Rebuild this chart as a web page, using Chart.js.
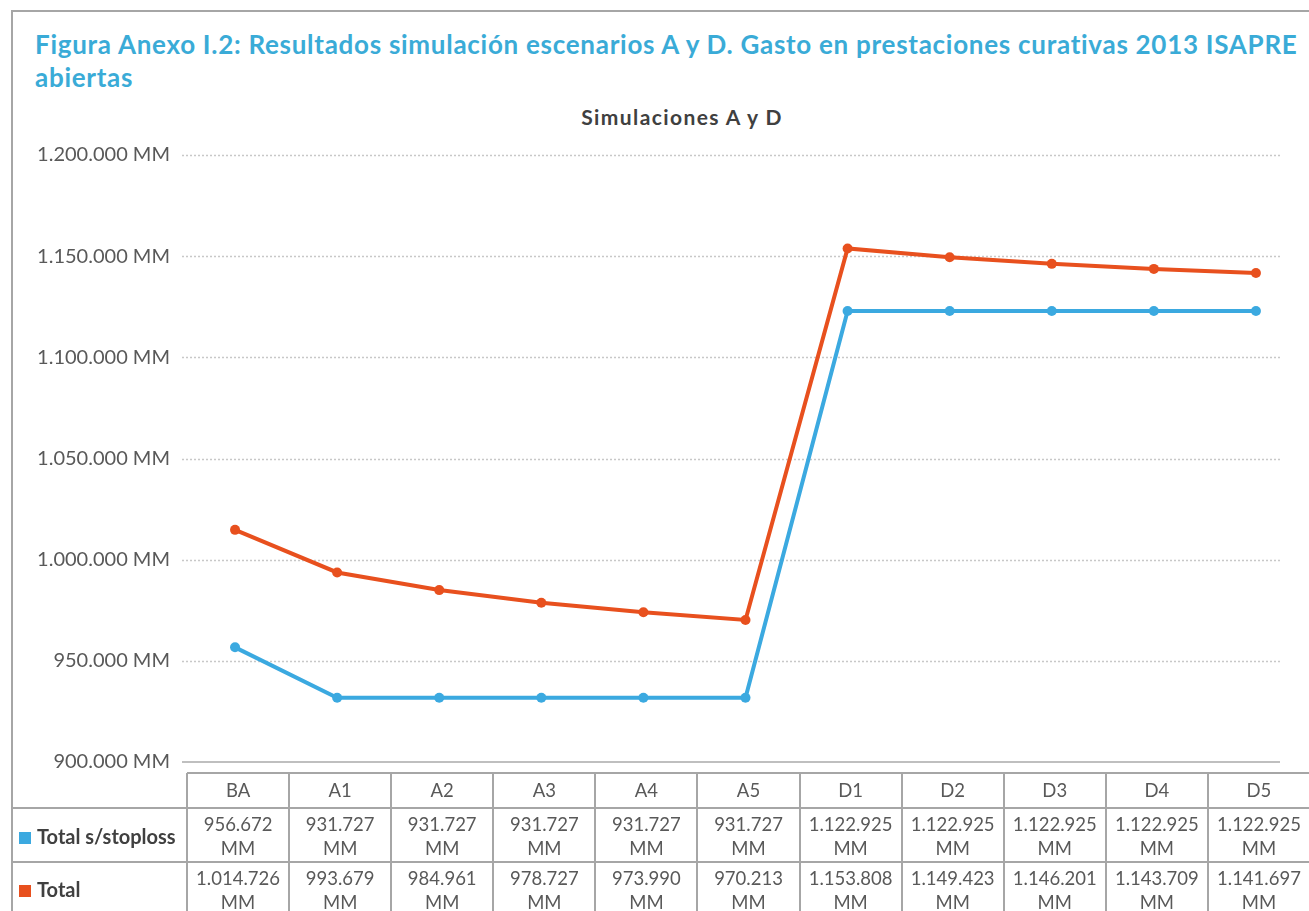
<!DOCTYPE html>
<html>
<head>
<meta charset="utf-8">
<script src="https://cdn.jsdelivr.net/npm/chart.js@4.4.0/dist/chart.umd.min.js"></script>
<style>
	html, body { margin: 0; padding: 0; background: #fff; overflow: hidden; }
	#wrap { position: relative; width: 1312px; height: 911px; }
	#frame { position: absolute; left: 11px; top: 10px; width: 1400px; height: 1000px; border-left: 2px solid #a6a6a6; border-top: 2px solid #a6a6a6; }
	#title { position: absolute; left: 35px; top: 28px; width: 1290px; font-family: Lato, sans-serif; font-weight: bold; font-size: 26px; line-height: 33px; color: #3aabd7; white-space: nowrap; }
	#subtitle { position: absolute; left: 482px; top: 104px; width: 400px; text-align: center; font-family: Lato, sans-serif; font-weight: bold; font-size: 21px; letter-spacing: 1.4px; color: #404040; }
	canvas { position: absolute; left: 0; top: 0; }
</style>
</head>
<body>
<div id="wrap">
	<div id="frame"></div>
	<div id="title"><span id="t1">Figura Anexo I.2: Resultados simulación escenarios A y D. Gasto en prestaciones curativas 2013 ISAPRE</span><br><span id="t2">abiertas</span></div>
	<div id="subtitle">Simulaciones A y D</div>
	<canvas id="chart" width="1312" height="911"></canvas>
</div>
<script>

// scenario labels and the two series (millones de pesos)
var categories = ['BA', 'A1', 'A2', 'A3', 'A4', 'A5', 'D1', 'D2', 'D3', 'D4', 'D5'];
var seriesNames = ['Total s/stoploss', 'Total'];
var stoploss = [956672, 931727, 931727, 931727, 931727, 931727, 1122925, 1122925, 1122925, 1122925, 1122925];
var total = [1014726, 993679, 984961, 978727, 973990, 970213, 1153808, 1149423, 1146201, 1143709, 1141697];
var yTicks = [900000, 950000, 1000000, 1050000, 1100000, 1150000, 1200000];

var BLUE = '#3ba9e0';
var ORANGE = '#e8501e';
var FONT = 'Lato, sans-serif';

// stretch the heading so its first line spans like the original
var t1 = document.getElementById('t1');
var sp = (1263 - t1.getBoundingClientRect().width) / t1.textContent.length;
document.getElementById('title').style.letterSpacing = Math.max(0, sp) + 'px';

function fmt(v) {
	return String(v).replace(/\B(?=(\d{3})+(?!\d))/g, '.') + ' MM';
}

// dotted grid, axis line and the data table underneath
var tablePlugin = {
	id: 'tablePlugin',
	beforeDatasetsDraw: function(chart) {
		var ctx = chart.ctx;
		var y = chart.scales.y;
		ctx.save();
		ctx.lineWidth = 1.5;
		ctx.strokeStyle = '#c8c8c8';
		ctx.setLineDash([2, 2]);
		yTicks.forEach(function(t) {
			if (t == yTicks[0]) return;
			var py = Math.round(y.getPixelForValue(t)) + 0.5;
			ctx.beginPath();
			ctx.moveTo(182, py);
			ctx.lineTo(1280, py);
			ctx.stroke();
		});
		ctx.setLineDash([]);
		ctx.lineWidth = 2;
		ctx.strokeStyle = '#bfbfbf';
		var by = Math.round(y.getPixelForValue(yTicks[0]));
		ctx.beginPath();
		ctx.moveTo(182, by);
		ctx.lineTo(1280, by);
		ctx.stroke();
		ctx.restore();
	},
	afterDraw: function(chart) {
		var ctx = chart.ctx;
		var x = chart.scales.x;
		var w = (x.right - x.left) / categories.length;
		var top = 773, r1 = 808, r2 = 862, bottom = 911;
		ctx.save();
		ctx.strokeStyle = '#a6a6a6';
		ctx.lineWidth = 2;

		ctx.beginPath();
		ctx.moveTo(x.left + 3, top); ctx.lineTo(1312, top);
		ctx.moveTo(12, r1); ctx.lineTo(1312, r1);
		ctx.moveTo(12, r2); ctx.lineTo(1312, r2);
		for (var i = 0; i <= categories.length; i++) {
			var cx = Math.round(x.left + 3 + i * w);
			ctx.moveTo(cx, top); ctx.lineTo(cx, bottom);
		}
		ctx.stroke();

		ctx.textAlign = 'center';
		ctx.textBaseline = 'middle';
		ctx.fillStyle = '#595959';
		ctx.font = '18.5px ' + FONT;
		categories.forEach(function(c, i) {
			var px = x.getPixelForValue(i) + 3;
			ctx.fillText(c, px, 791);
			var a = fmt(stoploss[i]).split(' ');
			ctx.fillText(a[0], px, 825);
			ctx.fillText(a[1], px, 849);
			var b = fmt(total[i]).split(' ');
			ctx.fillText(b[0], px, 879);
			ctx.fillText(b[1], px, 903);
		});

		// row labels with legend squares
		ctx.textAlign = 'left';
		ctx.fillStyle = BLUE;
		ctx.fillRect(19, 832, 12, 12);
		ctx.fillStyle = ORANGE;
		ctx.fillRect(19, 885, 12, 12);
		ctx.fillStyle = '#404040';
		ctx.font = 'bold 20px ' + FONT;
		ctx.fillText(seriesNames[0], 37, 838);
		ctx.fillText(seriesNames[1], 37, 891);
		ctx.restore();
	}
};

var ctx = document.getElementById('chart').getContext('2d');
var chart = new Chart(ctx, {
	type: 'line',
	data: {
		labels: categories,
		datasets: [{
			label: seriesNames[0],
			data: stoploss,
			borderColor: BLUE,
			backgroundColor: BLUE,
			borderWidth: 4,
			pointRadius: 5,
			pointBorderWidth: 0,
			tension: 0
		}, {
			label: seriesNames[1],
			data: total,
			borderColor: ORANGE,
			backgroundColor: ORANGE,
			borderWidth: 4,
			pointRadius: 5,
			pointBorderWidth: 0,
			tension: 0
		}]
	},
	options: {
		responsive: false,
		animation: false,
		layout: { padding: { top: 155, bottom: 149, left: 0, right: 2 } },
		plugins: {
			legend: { display: false },
			title: { display: false },
			tooltip: { enabled: false }
		},
		scales: {
			x: {
				offset: true,
				grid: { display: false },
				border: { display: false },
				ticks: { display: false },
				afterFit: function(scale) { scale.height = 0; }
			},
			y: {
				min: 900000,
				max: 1200000,
				grid: { display: false, drawTicks: false },
				border: { display: false },
				afterFit: function(scale) { scale.width = 184; },
				afterBuildTicks: function(scale) {
					scale.ticks = yTicks.map(function(v) { return { value: v }; });
				},
				ticks: {
					padding: 14,
					color: '#595959',
					font: { family: FONT, size: 20 },
					callback: function(v) { return fmt(v); }
				}
			}
		}
	},
	plugins: [tablePlugin]
});

</script>
</body>
</html>
